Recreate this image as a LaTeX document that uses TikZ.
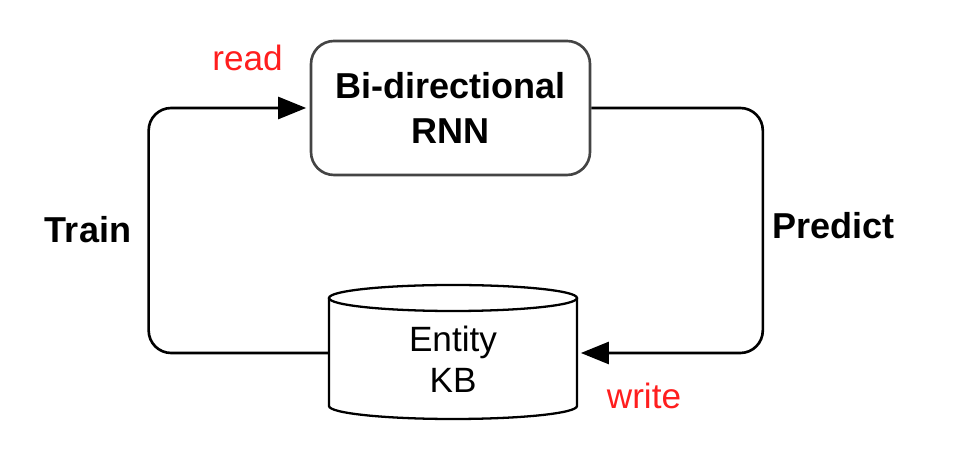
\documentclass[tikz,border=0pt]{standalone}
\usepackage{fontspec}
\setmainfont{Liberation Sans}
\usetikzlibrary{arrows.meta}
\definecolor{labelred}{RGB}{255,30,30}
\definecolor{boxgray}{RGB}{68,68,68}

\begin{document}
\begin{tikzpicture}[
  box/.style={draw=boxgray, line width=1.5pt, rounded corners=0.46cm,
    minimum width=5.58cm, minimum height=2.68cm, align=center,
    font=\fontsize{20.5}{26}\selectfont\bfseries},
  kbtext/.style={minimum width=4.96cm, inner xsep=0pt, align=center,
    font=\fontsize{20}{23.3}\selectfont},
  flow/.style={line width=1.5pt, rounded corners=0.45cm, shorten >=2pt,
    -{Triangle[length=0.56cm,width=0.44cm]}},
  redlabel/.style={anchor=base, text=labelred, font=\fontsize{20}{24}\selectfont},
  sidelabel/.style={anchor=base, font=\fontsize{20.5}{24}\selectfont\bfseries}
]
\useasboundingbox (0,0) rectangle (19.16,9.24);

\node[box] (rnn) at (9.01,7.08) {Bi-directional\\RNN};

\draw[line width=1.3pt] (6.58,3.28) -- (6.58,1.12)
  arc[start angle=180, end angle=360, x radius=2.48, y radius=0.26] -- (11.54,3.28);
\draw[line width=1.3pt] (9.06,3.28) ellipse[x radius=2.48, y radius=0.26];
\node[kbtext] (kb) at (9.06,2.05) {Entity\\KB};

\draw[flow] ([yshift=0.13cm]kb.west) -- ++(-3.6,0) |- (rnn.west);
\draw[flow] (rnn.east) -- ++(3.43,0) |- ([yshift=0.13cm]kb.east);

\node[redlabel] (read) at (4.95,7.83) {read};
\node[redlabel] (write) at (12.88,1.06) {write};
\node[sidelabel] (train) at (1.76,4.38) {Train};
\node[sidelabel] (predict) at (16.67,4.46) {Predict};
\end{tikzpicture}
\end{document}
